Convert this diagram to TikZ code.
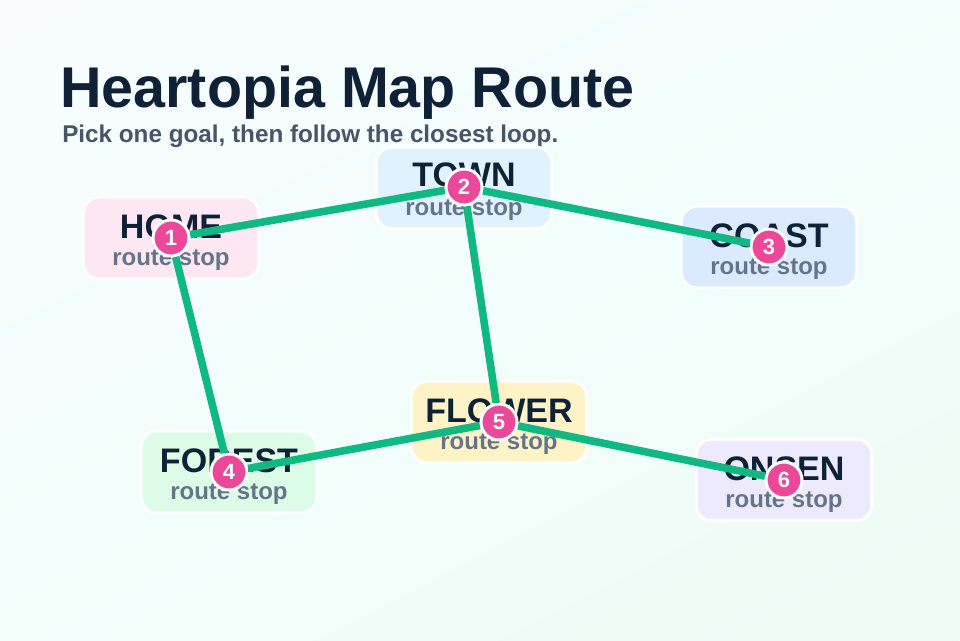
\documentclass[tikz,border=0pt]{standalone}
\usepackage{fontspec}
\setmainfont{Liberation Sans}
\usetikzlibrary{shapes}

\definecolor{inkdark}{HTML}{0F2136}
\definecolor{inksub}{HTML}{475569}
\definecolor{inkstop}{HTML}{64748B}
\definecolor{routegreen}{HTML}{10B981}
\definecolor{badgepink}{HTML}{EC4899}
\definecolor{bgstart}{HTML}{F8FCFF}
\definecolor{bgmid}{HTML}{F2FEFB}
\definecolor{bgend}{HTML}{ECFBF4}
\definecolor{homefill}{HTML}{FCE7F3}
\definecolor{townfill}{HTML}{E0F2FE}
\definecolor{coastfill}{HTML}{DBEAFE}
\definecolor{forestfill}{HTML}{DCFCE7}
\definecolor{flowerfill}{HTML}{FEF3C7}
\definecolor{onsenfill}{HTML}{EDE9FE}

\tikzset{
    stopbox/.style = {draw = white, line width = 2.13pt, rounded corners = 11.5pt,
        minimum width = 125pt, minimum height = 58.2pt, inner sep = 0pt},
    stopname/.style = {anchor = base, text = inkdark, font = \fontsize{24.2}{28}\selectfont\bfseries, inner sep = 0pt},
    stopnote/.style = {anchor = base, text = inkstop, font = \fontsize{17.07}{20}\selectfont\bfseries, inner sep = 0pt},
    badge/.style = {circle, draw = white, fill = badgepink, line width = 2.13pt, minimum size = 25.6pt,
        inner sep = 0pt, text = white, font = \fontsize{15.65}{18}\selectfont\bfseries},
    route/.style = {draw = routegreen, line width = 5.4pt}
}

\begin{document}
\begin{tikzpicture}[x = 0.025cm, y = -0.025cm]

    \useasboundingbox (0,0) rectangle (960,640);

    % page background
    \begin{scope}
        \clip (0,0) rectangle (960,640);
        \path[transform canvas = {rotate around = {27:(480,320)}}, shade,
            bottom color = bgend, top color = bgstart, middle color = bgmid]
            (-93,-183) rectangle (1053,823);
    \end{scope}

    \node (title) at (60,107) [anchor = base west, inner sep = 0pt, text = inkdark,
        font = \fontsize{40.85}{46}\selectfont\bfseries] {Heartopia Map Route};
    \node (subtitle) at (62,142) [anchor = base west, inner sep = 0pt, text = inksub,
        font = \fontsize{17.25}{20}\selectfont\bfseries] {Pick one goal, then follow the closest loop.};

    % boxes
    \node (home) at (171,238) [stopbox, fill = homefill] {};
    \node (town) at (464,188) [stopbox, fill = townfill] {};
    \node (coast) at (769,247) [stopbox, fill = coastfill] {};
    \node (forest) at (229,472) [stopbox, fill = forestfill] {};
    \node (flower) at (499,422) [stopbox, fill = flowerfill] {};
    \node (onsen) at (784,480) [stopbox, fill = onsenfill] {};

    % labels
    \node (homename) at (171,238) [stopname] {HOME};
    \node (homenote) at (171,265) [stopnote] {route stop};
    \node (townname) at (464,186) [stopname] {TOWN};
    \node (townnote) at (464,215) [stopnote] {route stop};
    \node (coastname) at (769,247) [stopname] {COAST};
    \node (coastnote) at (769,274) [stopnote] {route stop};
    \node (forestname) at (229,472) [stopname] {FOREST};
    \node (forestnote) at (229,499) [stopnote] {route stop};
    \node (flowername) at (499,422) [stopname] {FLOWER};
    \node (flowernote) at (499,449) [stopnote] {route stop};
    \node (onsenname) at (784,480) [stopname] {ONSEN};
    \node (onsennote) at (784,507) [stopnote] {route stop};

    % stops
    \node (S1) at (171,238) [badge] {1};
    \node (S2) at (464,187) [badge] {2};
    \node (S3) at (769,247) [badge] {3};
    \node (S4) at (229,472) [badge] {4};
    \node (S5) at (499,422) [badge] {5};
    \node (S6) at (784,480) [badge] {6};

    % routes
    \draw[route] (S1) -- (S2);
    \draw[route] (S2) -- (S3);
    \draw[route] (S1) -- (S4);
    \draw[route] (S4) -- (S5);
    \draw[route] (S2) -- (S5);
    \draw[route] (S5) -- (S6);

\end{tikzpicture}
\end{document}
